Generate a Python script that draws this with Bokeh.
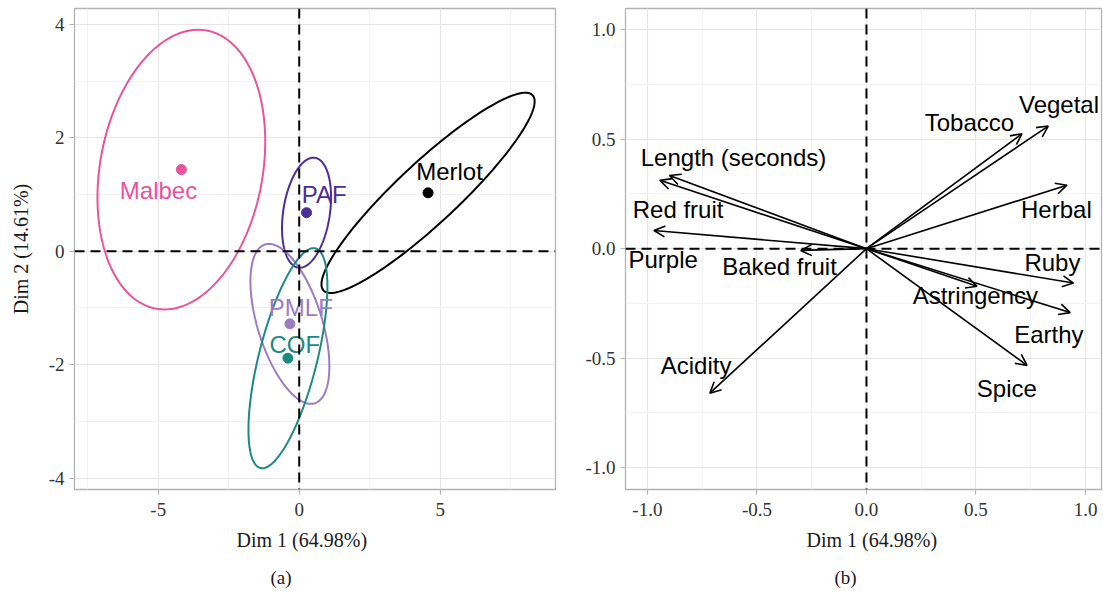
import numpy as np
from bokeh.plotting import figure
from bokeh.models import (ColumnDataSource, Span, Arrow, OpenHead, FixedTicker,
                          Title, CustomJSTickFormatter, Range1d)
from bokeh.layouts import row
from bokeh.embed import file_html
from bokeh.resources import INLINE
from bokeh.core.properties import value

# ---------------- data: panel (a) individuals ----------------
groups = ["Malbec", "Merlot", "PAF", "PMLF", "COF"]
colors = ["#E8539C", "#000000", "#4B2D9A", "#9B7CC4", "#1A8A82"]
dim1_mean = [-4.18, 4.57, 0.26, -0.33, -0.40]
dim2_mean = [1.44, 1.03, 0.68, -1.28, -1.885]
# confidence ellipse parameters (half-extent along Dim1, along Dim2, correlation)
ell_sx = [2.975, 3.78, 0.87, 1.40, 1.40]
ell_sy = [2.465, 1.765, 0.97, 1.41, 1.94]
ell_r = [0.20, 0.913, 0.28, -0.53, 0.65]
# label anchor positions (repelled text)
grp_lab_x = [-4.99, 5.33, 0.887, 0.057, -0.156]
grp_lab_y = [1.078, 1.413, 0.999, -0.987, -1.644]

# ---------------- data: panel (b) variables ----------------
variables = ["Length (seconds)", "Red fruit", "Purple", "Baked fruit", "Acidity",
             "Tobacco", "Vegetal", "Herbal", "Ruby", "Astringency", "Earthy", "Spice"]
var_dim1 = [-0.899, -0.943, -0.97, -0.30, -0.715, 0.71, 0.83, 0.915, 0.945, 0.505, 0.93, 0.733]
var_dim2 = [0.334, 0.312, 0.083, -0.008, -0.66, 0.525, 0.56, 0.29, -0.157, -0.172, -0.292, -0.533]
var_lab_x = [-0.607, -0.86, -0.928, -0.397, -0.778, 0.47, 0.879, 0.867, 0.849, 0.497, 0.833, 0.641]
var_lab_y = [0.417, 0.179, -0.049, -0.081, -0.533, 0.578, 0.659, 0.18, -0.065, -0.213, -0.39, -0.637]

SERIF = "Liberation Serif"
SANS = "Liberation Sans"
GRID_MAJOR = "#E6E6E6"
GRID_MINOR = "#F2F2F2"
BORDER = "#B3B3B3"


def style(p, xt, xminor, yt, yminor, digits):
    p.outline_line_color = BORDER
    p.outline_line_width = 1.3
    p.background_fill_color = "white"
    p.border_fill_color = "white"
    p.xaxis.ticker = FixedTicker(ticks=xt, minor_ticks=xminor)
    p.yaxis.ticker = FixedTicker(ticks=yt, minor_ticks=yminor)
    fmt = CustomJSTickFormatter(code="return tick.toFixed(%d);" % digits)
    for ax in (p.xaxis, p.yaxis):
        ax.formatter = fmt
        ax.axis_line_color = None
        ax.major_tick_line_color = BORDER
        ax.major_tick_line_width = 1.2
        ax.major_tick_out = 5
        ax.major_tick_in = 0
        ax.minor_tick_out = 0
        ax.minor_tick_in = 0
        ax.major_label_text_font = SERIF
        ax.major_label_text_font_size = "19px"
        ax.major_label_text_color = "#333333"
        ax.major_label_standoff = 5
    p.xaxis.major_label_standoff = 8
    for g in (p.xgrid, p.ygrid):
        g.grid_line_color = GRID_MAJOR
        g.grid_line_width = 1.2
        g.minor_grid_line_color = GRID_MINOR
        g.minor_grid_line_width = 1.0
    p.add_layout(Span(location=0, dimension="height", line_color="black",
                      line_width=2, line_dash="10 6"))
    p.add_layout(Span(location=0, dimension="width", line_color="black",
                      line_width=2, line_dash="10 6"))


def below_title(p, text, offset, standoff, size):
    t = Title(text=text, align="left", offset=offset, text_font=SERIF,
              text_font_size=size, text_font_style="normal",
              text_color="#1a1a1a", standoff=standoff)
    p.add_layout(t, "below")


# ---------------- panel (a) ----------------
p1 = figure(width=564, height=594, x_range=Range1d(-7.97, 9.09),
            y_range=Range1d(-4.2, 4.28), output_backend="svg",
            toolbar_location=None, min_border_left=74, min_border_right=9,
            min_border_top=8, min_border_bottom=105)
style(p1, [-5, 0, 5], [-7.5, -2.5, 2.5, 7.5], [-4, -2, 0, 2, 4], [-3, -1, 1, 3], 0)
p1.yaxis.axis_label = "Dim 2 (14.61%)"
p1.yaxis.axis_label_text_font = SERIF
p1.yaxis.axis_label_text_font_size = "20px"
p1.yaxis.axis_label_text_font_style = "normal"
p1.yaxis.axis_label_text_color = "#1a1a1a"
p1.yaxis.axis_label_standoff = 14

t = np.linspace(0, 2 * np.pi, 200)
xs, ys = [], []
for cx, cy, sx, sy, r in zip(dim1_mean, dim2_mean, ell_sx, ell_sy, ell_r):
    xs.append(list(cx + sx * np.cos(t)))
    ys.append(list(cy + sy * (r * np.cos(t) + np.sqrt(1 - r * r) * np.sin(t))))
ell_src = ColumnDataSource(dict(xs=xs, ys=ys, color=colors))
p1.multi_line(xs="xs", ys="ys", line_color="color", line_width=2, source=ell_src)

pt_src = ColumnDataSource(dict(x=dim1_mean, y=dim2_mean, color=colors,
                               lx=grp_lab_x, ly=grp_lab_y, name=groups))
p1.scatter(x="x", y="y", size=10, fill_color="color", line_color="color", source=pt_src)
p1.text(x="lx", y="ly", text="name", text_color="color", text_font=value(SANS),
        text_font_size="24px", text_align="center", text_baseline="middle",
        source=pt_src)
below_title(p1, "Dim 1 (64.98%)", 162, 16, "20px")
below_title(p1, "(a)", 196, 13, "19px")

# ---------------- panel (b) ----------------
p2 = figure(width=539, height=594, x_range=Range1d(-1.10, 1.073),
            y_range=Range1d(-1.10, 1.097), output_backend="svg",
            toolbar_location=None, min_border_left=61, min_border_right=2,
            min_border_top=8, min_border_bottom=105)
style(p2, [-1, -0.5, 0, 0.5, 1], [-0.75, -0.25, 0.25, 0.75],
      [-1, -0.5, 0, 0.5, 1], [-0.75, -0.25, 0.25, 0.75], 1)

var_src = ColumnDataSource(dict(x0=[0.0] * len(variables), y0=[0.0] * len(variables),
                                x=var_dim1, y=var_dim2, lx=var_lab_x, ly=var_lab_y,
                                name=variables))
p2.add_layout(Arrow(end=OpenHead(size=11, line_width=1.6, line_color="black"),
                    x_start="x0", y_start="y0", x_end="x", y_end="y",
                    line_width=1.6, line_color="black", source=var_src))
p2.text(x="lx", y="ly", text="name", text_color="black", text_font=value(SANS),
        text_font_size="24px", text_align="center", text_baseline="middle",
        source=var_src)
below_title(p2, "Dim 1 (64.98%)", 181, 16, "20px")
below_title(p2, "(b)", 209, 13, "19px")

layout = row(p1, p2, spacing=0)
open("out.html", "w").write(file_html(layout, INLINE))
